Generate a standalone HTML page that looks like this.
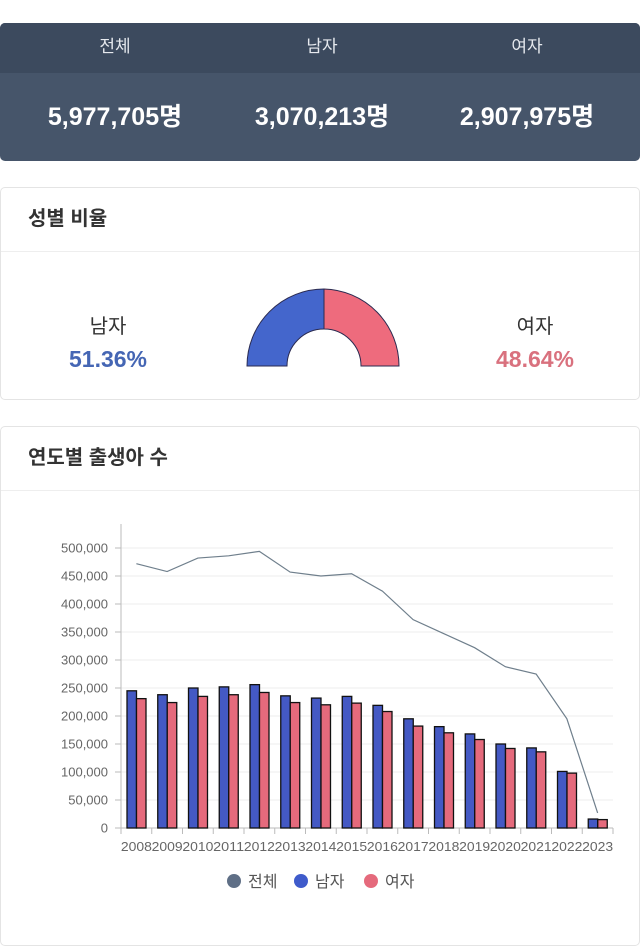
<!DOCTYPE html>
<html><head><meta charset="utf-8">
<style>
*{box-sizing:border-box;margin:0;padding:0}
body{width:640px;height:915px;background:#fff;font-family:"Liberation Sans","Noto Sans CJK KR",sans-serif;position:relative;overflow:hidden}
.sum{position:absolute;left:0;top:23px;width:640px;height:138px;border-radius:5px;overflow:hidden;background:#46556a}
.sum .top{height:50px;background:#3c4a5e}
.sum div.c{position:absolute;width:220px;margin-left:-110px;text-align:center}
.sum .t{font-size:17px;line-height:48px;top:0;color:#e6e9ee}
.sum .n{font-size:25px;font-weight:bold;line-height:88px;top:50px;color:#fff}
.card{position:absolute;left:0;width:640px;border:1px solid #e4e4e4;border-radius:5px;background:#fff}
.card h2{font-size:20px;font-weight:bold;color:#333;height:64px;line-height:62px;padding-left:27px;border-bottom:1px solid #eee}
.lab{position:absolute;text-align:center;width:120px}
.lab .a{font-size:20px;color:#333;line-height:24px}
.lab .b{font-size:23px;font-weight:bold;line-height:28px;margin-top:6px}
</style></head><body>
<div class="sum">
<div class="top"></div>
<div class="c t" style="left:115px">전체</div><div class="c t" style="left:322px">남자</div><div class="c t" style="left:527px">여자</div>
<div class="c n" style="left:115px">5,977,705명</div><div class="c n" style="left:322px">3,070,213명</div><div class="c n" style="left:527px">2,907,975명</div>
</div>
<div class="card" style="top:187px;height:213px">
<h2>성별 비율</h2>
<div class="lab" style="left:47px;top:127px"><div class="a">남자</div><div class="b" style="color:#4566b4">51.36%</div></div>
<div class="lab" style="left:474px;top:127px"><div class="a">여자</div><div class="b" style="color:#d9717e">48.64%</div></div>
<svg style="position:absolute;left:0;top:0" width="640" height="213">
<path d="M246 178 A77 77 0 0 1 323 101 L323 141 A37 37 0 0 0 286 178 Z" fill="#4466cc" stroke="#2a2a50" stroke-width="1"/>
<path d="M323 101 A77 77 0 0 1 398 178 L360 178 A37 37 0 0 0 323 141 Z" fill="#ee6b7d" stroke="#2a2a50" stroke-width="1"/>
</svg>
</div>
<div class="card" style="top:426px;height:520px">
<h2>연도별 출생아 수</h2>
</div>
<svg id="ch" style="position:absolute;left:0;top:0" width="640" height="915" font-family="Liberation Sans, Noto Sans CJK KR, sans-serif"></svg>
<script>
var m=[245,238,250,252,256,236,232,235,219,195,181,168,150,143,101,16];
var f=[231,224,235,238,242,224,220,223,208,182,170,158,142,136,98,15];
var t=[472,458,482,486,494,457,450,454,423,372,347,322,288,275,195,27];
var x0=121,x1=613,y0=828,k=280/500,w=(x1-x0)/16,s='';
function Y(v){return y0-v*k}
for(var i=0;i<=10;i++){var v=i*50,y=Y(v);
if(i>0)s+='<line x1="'+x0+'" x2="'+x1+'" y1="'+y+'" y2="'+y+'" stroke="#eee"/>';
s+='<line x1="'+(x0-6)+'" x2="'+x0+'" y1="'+y+'" y2="'+y+'" stroke="#bbb"/>';
s+='<text x="'+(x0-13)+'" y="'+(y+4.5)+'" font-size="13" fill="#666" text-anchor="end">'+(v?v+',000':'0')+'</text>';}
s+='<line x1="'+x0+'" x2="'+x0+'" y1="524" y2="'+y0+'" stroke="#bbb"/>';
s+='<line x1="'+x0+'" x2="'+x1+'" y1="'+y0+'" y2="'+y0+'" stroke="#bbb"/>';
var pts=[];
for(var i=0;i<16;i++){var cx=x0+w*i;
s+='<line x1="'+cx+'" x2="'+cx+'" y1="'+y0+'" y2="'+(y0+6)+'" stroke="#bbb"/>';
s+='<rect x="'+(cx+6)+'" y="'+Y(m[i])+'" width="9.5" height="'+(m[i]*k)+'" fill="#4459c4" stroke="#111" stroke-width="1.3"/>';
s+='<rect x="'+(cx+15.5)+'" y="'+Y(f[i])+'" width="9.5" height="'+(f[i]*k)+'" fill="#e56a7c" stroke="#111" stroke-width="1.3"/>';
s+='<text x="'+(cx+w/2)+'" y="'+(y0+23)+'" font-size="13" fill="#666" text-anchor="middle" textLength="31" lengthAdjust="spacingAndGlyphs">'+(2008+i)+'</text>';
pts.push((cx+w/2)+','+Y(t[i]));}
s+='<line x1="'+x1+'" x2="'+x1+'" y1="'+y0+'" y2="'+(y0+6)+'" stroke="#bbb"/>';
s+='<polyline points="'+pts.join(' ')+'" fill="none" stroke="#6f7f8c" stroke-width="1.2"/>';
var L=[[234,'#5f6f86','전체'],[301,'#3f5bcb','남자'],[371,'#e56a7c','여자']];
L.forEach(function(l){s+='<circle cx="'+l[0]+'" cy="881" r="7" fill="'+l[1]+'"/><text x="'+(l[0]+14)+'" y="887" font-size="16" fill="#555">'+l[2]+'</text>';});
document.getElementById('ch').innerHTML=s;
</script>
</body></html>
